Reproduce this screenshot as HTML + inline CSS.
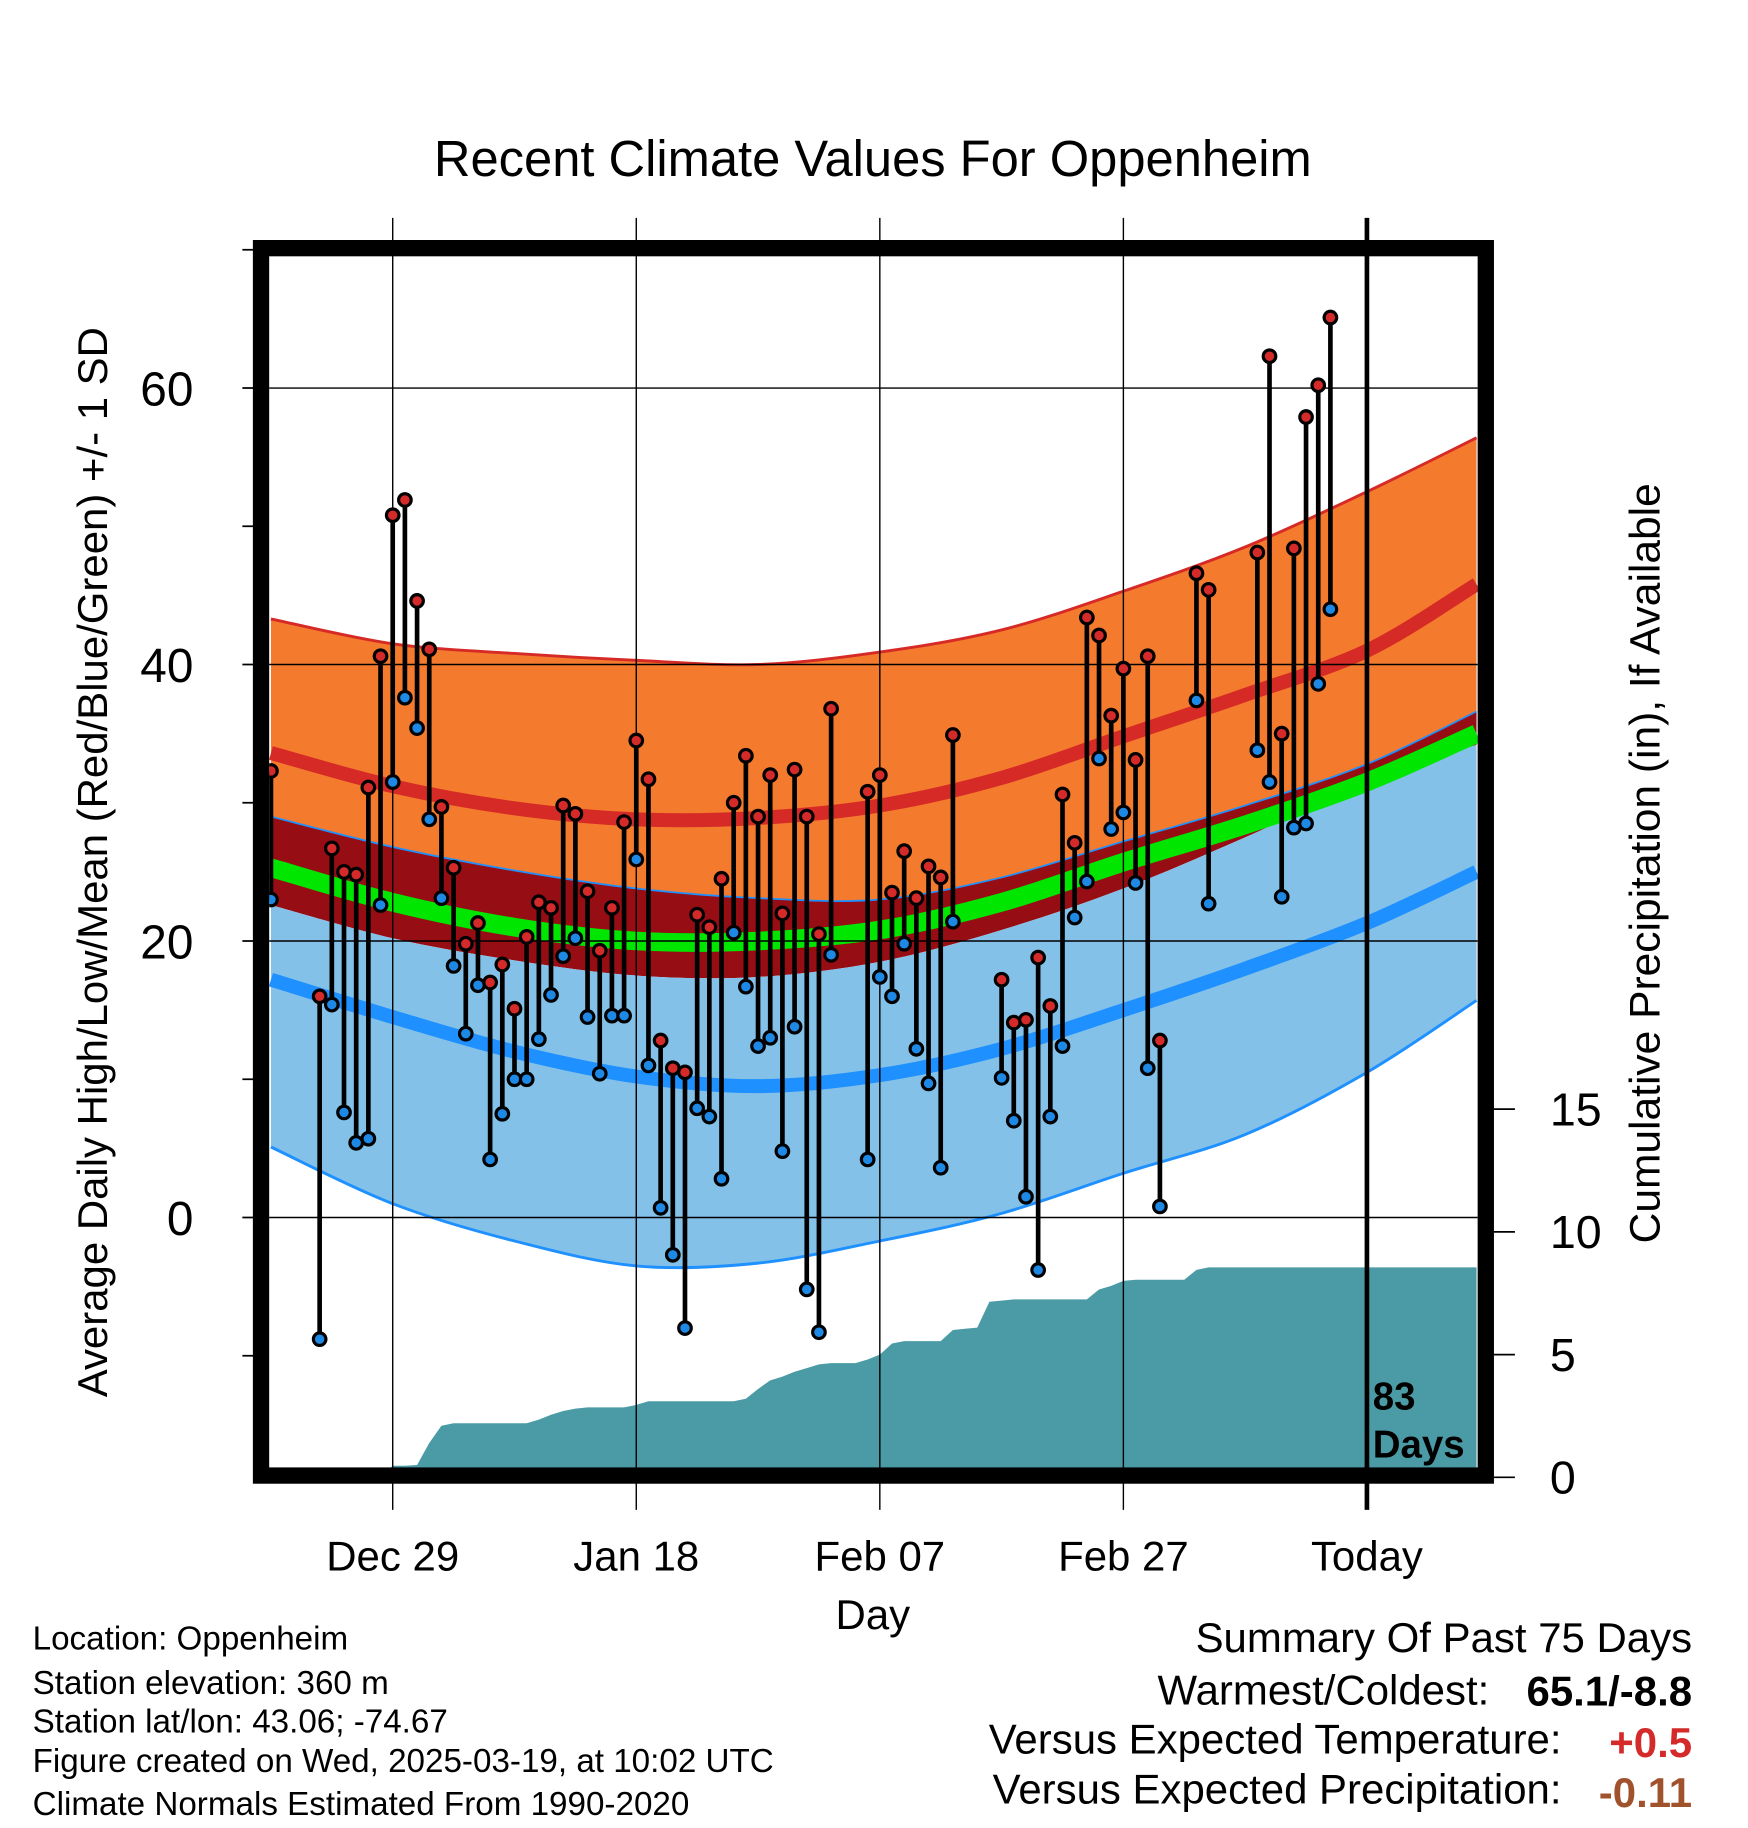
<!DOCTYPE html>
<html><head><meta charset="utf-8"><style>
html,body{margin:0;padding:0;background:#fff;}
svg{display:block;font-family:"Liberation Sans",Arial,sans-serif;}
</style></head>
<body>
<svg id="chart" width="1748" height="1828" viewBox="0 0 1500 1569" preserveAspectRatio="none" xmlns="http://www.w3.org/2000/svg">
<defs><clipPath id="plotclip"><rect x="231" y="220" width="1037" height="1040"/></clipPath></defs>
<text x="749" y="151" font-size="43.5" text-anchor="middle">Recent Climate Values For Oppenheim</text>
<g id="bands" clip-path="url(#plotclip)"></g>
<g id="precip" clip-path="url(#plotclip)"></g>
<g id="grid"></g>
<g id="bars" clip-path="url(#plotclip)"></g>
<g id="frame"></g>
<text transform="translate(92,740) rotate(-90)" font-size="36" text-anchor="middle">Average Daily High/Low/Mean (Red/Blue/Green) +/- 1 SD</text>
<text transform="translate(1424,741) rotate(-90)" font-size="36.5" text-anchor="middle">Cumulative Precipitation (in), If Available</text>
<text x="749" y="1398" font-size="36" text-anchor="middle">Day</text>
<text x="1178" y="1210" font-size="33" font-weight="bold">83</text>
<text x="1178" y="1251" font-size="33" font-weight="bold">Days</text>
<g font-size="28.5">
<text x="28" y="1416">Location: Oppenheim</text>
<text x="28" y="1454">Station elevation: 360 m</text>
<text x="28" y="1487">Station lat/lon: 43.06; -74.67</text>
<text x="28" y="1521">Figure created on Wed, 2025-03-19, at 10:02 UTC</text>
<text x="28" y="1558">Climate Normals Estimated From 1990-2020</text>
</g>
<g font-size="36" text-anchor="end">
<text x="1452" y="1418">Summary Of Past 75 Days</text>
<text x="1278" y="1463">Warmest/Coldest:</text>
<text x="1452" y="1464" font-weight="bold">65.1/-8.8</text>
<text x="1340" y="1505">Versus Expected Temperature:</text>
<text x="1452" y="1508" font-weight="bold" fill="#d42a2a">+0.5</text>
<text x="1340" y="1548">Versus Expected Precipitation:</text>
<text x="1452" y="1551" font-weight="bold" fill="#a0522d">-0.11</text>
</g>
</svg>
<script>
const normDays = [-10,0,10,20,30,40,50,60,70,80,89];
const highPlus = [43.3,41.5,40.8,40.3,40.0,40.9,42.5,45.3,48.5,52.5,56.4];
const highMean = [33.6,31.2,29.6,28.8,28.9,29.8,31.8,34.8,37.8,41.0,45.8];
const highMinus = [29.0,26.8,25.1,23.8,23.1,23.0,24.6,27.2,29.8,32.8,36.6];
const meanNorm = [25.3,22.8,21.0,20.0,20.0,20.8,22.8,25.7,28.4,31.5,35.0];
const lowPlus = [22.6,20.2,18.6,17.5,17.4,18.5,20.8,23.8,27.5,31.5,34.2];
const lowMean = [17.2,14.5,12.0,10.2,9.5,10.3,12.2,15.0,18.0,21.3,25.0];
const lowMinus = [5.1,1.0,-1.7,-3.5,-3.3,-1.7,0.3,3.2,6.0,10.5,15.7];
const obsDays = [-10,-6,-5,-4,-3,-2,-1,0,1,2,3,4,5,6,7,8,9,10,11,12,13,14,15,16,17,18,19,20,21,22,23,24,25,26,27,28,29,30,31,32,33,34,35,36,39,40,41,42,43,44,45,46,50,51,52,53,54,55,56,57,58,59,60,61,62,63,66,67,71,72,73,74,75,76,77];
const obsHigh = [32.3,16,26.7,25,24.8,31.1,40.6,50.8,51.9,44.6,41.1,29.7,25.3,19.8,21.3,17,18.3,15.1,20.3,22.8,22.4,29.8,29.2,23.6,19.3,22.4,28.6,34.5,31.7,12.8,10.8,10.5,21.9,21,24.5,30,33.4,29,32,22,32.4,29,20.5,36.8,30.8,32,23.5,26.5,23.1,25.4,24.6,34.9,17.2,14.1,14.3,18.8,15.3,30.6,27.1,43.4,42.1,36.3,39.7,33.1,40.6,12.8,46.6,45.4,48.1,62.3,35,48.4,57.9,60.2,65.1];
const obsLow = [23,-8.8,15.4,7.6,5.4,5.7,22.6,31.5,37.6,35.4,28.8,23.1,18.2,13.3,16.8,4.2,7.5,10,10,12.9,16.1,18.9,20.2,14.5,10.4,14.6,14.6,25.9,11,0.7,-2.7,-8.0,7.9,7.3,2.8,20.6,16.7,12.4,13,4.8,13.8,-5.2,-8.3,19,4.2,17.4,16,19.8,12.2,9.7,3.6,21.4,10.1,7,1.5,-3.8,7.3,12.4,21.7,24.3,33.2,28.1,29.3,24.2,10.8,0.8,37.4,22.7,33.8,31.5,23.2,28.2,28.5,38.6,44];
const precip = [0,0,0,0,0,0,0,0,0,0,0.47,0.47,0.5,1.4,2.1,2.2,2.2,2.2,2.2,2.2,2.2,2.2,2.35,2.55,2.7,2.8,2.85,2.85,2.85,2.85,2.95,3.1,3.1,3.1,3.1,3.1,3.1,3.1,3.1,3.2,3.6,3.95,4.1,4.3,4.45,4.6,4.65,4.65,4.65,4.8,5.0,5.45,5.55,5.55,5.55,5.55,6.0,6.05,6.1,7.15,7.2,7.25,7.25,7.25,7.25,7.25,7.25,7.25,7.65,7.8,8.0,8.05,8.05,8.05,8.05,8.05,8.45,8.55,8.55,8.55,8.55,8.55,8.55,8.55,8.55,8.55,8.55,8.55,8.55,8.55,8.55,8.55,8.55,8.55,8.55,8.55,8.55,8.55,8.55,8.55];
const dateLabels = ["Dec 29","Jan 18","Feb 07","Feb 27","Today"];
const dateDays = [0,20,40,60,80];
const yTicks = [0,20,40,60];
const yMinor = [-10,10,30,50,70];
const pTicks = [0,5,10,15];

const NS="http://www.w3.org/2000/svg";
const X = d => 337 + d*10.45;
const Y = v => 1045 - v*11.866;
const YP = p => 1268 - p*21.07;
function mk(tag, parent, attrs){const e=document.createElementNS(NS,tag);for(const k in attrs)e.setAttribute(k,attrs[k]);parent.appendChild(e);return e;}
function smooth(days, vals){
  const pts=days.map((d,i)=>[X(d),Y(vals[i])]);let s="";
  for(let i=0;i<pts.length-1;i++){const p0=pts[Math.max(i-1,0)],p1=pts[i],p2=pts[i+1],p3=pts[Math.min(i+2,pts.length-1)];
    if(i===0)s+="M"+p1[0]+","+p1[1];
    s+=" C"+(p1[0]+(p2[0]-p0[0])/6)+","+(p1[1]+(p2[1]-p0[1])/6)+" "+(p2[0]-(p3[0]-p1[0])/6)+","+(p2[1]-(p3[1]-p1[1])/6)+" "+p2[0]+","+p2[1];}
  return s;}
function revPath(days, vals){return smooth(days.slice().reverse(), vals.slice().reverse()).replace(/^M/," L");}
function band(a,b){return smooth(normDays,a)+revPath(normDays,b)+" Z";}

const bands=document.getElementById('bands');
let e;
e=mk('path',bands,{d:band(highPlus,highMinus),fill:'#f47a2e'});

e=mk('path',bands,{d:band(highMinus,lowPlus),fill:'#960e14'});

e=mk('path',bands,{d:band(lowPlus,lowMinus),fill:'#84c1e8'});

e=mk('path',bands,{d:smooth(normDays,highPlus),fill:'none',stroke:'#d62a26','stroke-width':2.5});

e=mk('path',bands,{d:smooth(normDays,highMinus),fill:'none',stroke:'#1e90ff','stroke-width':1.5});

e=mk('path',bands,{d:smooth(normDays,lowMinus),fill:'none',stroke:'#1e90ff','stroke-width':2.5});

e=mk('path',bands,{d:smooth(normDays,highMean),fill:'none',stroke:'#d62a26','stroke-width':12});

e=mk('path',bands,{d:smooth(normDays,meanNorm),fill:'none',stroke:'#00e600','stroke-width':16});

e=mk('path',bands,{d:smooth(normDays,lowMean),fill:'none',stroke:'#1e90ff','stroke-width':12});


const pg=document.getElementById('precip');
let pd="M"+X(-10)+","+YP(0);
precip.forEach((p,i)=>{pd+=" L"+X(i-10)+","+YP(p);});
pd+=" L"+X(89)+","+YP(0)+" Z";
e=mk('path',pg,{d:pd,fill:'#4a9ba5'});


const g=document.getElementById('grid');
yTicks.forEach(v=>{
  e=mk('line',g,{x1:231,x2:1268,y1:Y(v),y2:Y(v),stroke:'#000','stroke-width':1.2});
  
  e=mk('line',g,{x1:208,x2:218,y1:Y(v),y2:Y(v),stroke:'#000','stroke-width':1.5});
  
  e=mk('text',g,{x:166,y:Y(v)+15,'font-size':41,'text-anchor':'end'});e.textContent=v;
  
});
yMinor.forEach(v=>{
  e=mk('line',g,{x1:208,x2:218,y1:Y(v),y2:Y(v),stroke:'#000','stroke-width':1.5});
  
});
dateDays.forEach((d,i)=>{
  const today = dateLabels[i]==="Today";
  e=mk('line',g,{x1:X(d),x2:X(d),y1:187,y2:1296,stroke:'#000','stroke-width':today?4:1.2});
  
  e=mk('text',g,{x:X(d),y:1348,'font-size':36,'text-anchor':'middle'});e.textContent=dateLabels[i];
  
});
pTicks.forEach(p=>{
  e=mk('line',g,{x1:1282,x2:1300,y1:YP(p),y2:YP(p),stroke:'#000','stroke-width':1.5});
  
  e=mk('text',g,{x:1330,y:YP(p)+14,'font-size':40});e.textContent=p;
  
});

const bg=document.getElementById('bars');
obsDays.forEach((d,i)=>{
  e=mk('line',bg,{x1:X(d),x2:X(d),y1:Y(obsHigh[i]),y2:Y(obsLow[i]),stroke:'#000','stroke-width':4});
  
  e=mk('circle',bg,{cx:X(d),cy:Y(obsHigh[i]),r:5.4,fill:'#d42a2a',stroke:'#000','stroke-width':2.7});
  
  e=mk('circle',bg,{cx:X(d),cy:Y(obsLow[i]),r:5.4,fill:'#1e88e5',stroke:'#000','stroke-width':2.7});
  
});

const fr=document.getElementById('frame');
e=mk('rect',fr,{x:224,y:213,width:1051,height:1053.5,fill:'none',stroke:'#000','stroke-width':14});

</script>
</body></html>
